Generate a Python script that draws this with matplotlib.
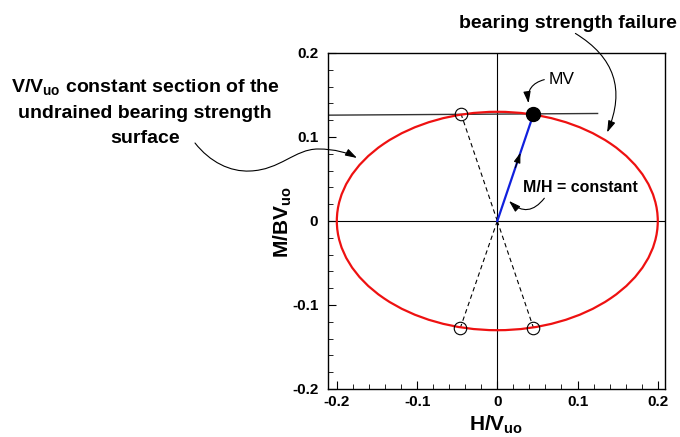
import matplotlib.pyplot as plt
from matplotlib.patches import Ellipse, FancyArrowPatch
from matplotlib.path import Path
from matplotlib.ticker import MultipleLocator

plt.rcParams['font.family'] = ['Liberation Sans', 'DejaVu Sans']
plt.rcParams['mathtext.fontset'] = 'custom'
plt.rcParams['mathtext.rm'] = 'Liberation Sans'
plt.rcParams['mathtext.bf'] = 'Liberation Sans:bold'
plt.rcParams['mathtext.default'] = 'bf'

# Undrained bearing strength surface (V/Vuo constant section)
H_MAX = 0.2
M_MAX = 0.13

# Load path at constant M/H, ending on the surface at MV
path_h = [0.0, 0.045]
path_m = [0.0, 0.127]

# Symmetric points on the same section
sym_h = [-0.045, -0.046, 0.045]
sym_m = [0.127, -0.127, -0.127]

# Horizontal reference line through the failure point
ref_h = [-0.211, 0.125]
ref_m = [0.126, 0.128]

fig = plt.figure(figsize=(6.8, 4.37), dpi=100)
W, H = 680, 437


def px(x, y):
    # pixel position (top-left origin) -> figure fraction
    return (x / W, 1 - y / H)


ax = fig.add_axes([328 / W, 1 - 389 / H, 337 / W, 336 / H])
ax.set_xlim(-0.211, 0.209)
ax.set_ylim(-0.2, 0.2)

ax.axhline(0, color='black', lw=0.8, zorder=1)
ax.axvline(0, color='black', lw=0.8, zorder=1)

ax.add_patch(Ellipse((0, 0), 2 * H_MAX, 2 * M_MAX, fill=False,
                     edgecolor='#ee1111', lw=1.6, zorder=3))

ax.plot(ref_h, ref_m, color='#333333', lw=1.0, zorder=2)

for h, m in zip(sym_h, sym_m):
    ax.plot([0, h], [0, m], color='black', lw=0.8, dashes=(4, 3), zorder=2)
ax.plot(sym_h, sym_m, 'o', ms=9, mfc='none', mec='black', mew=0.8, zorder=4)

ax.plot(path_h, path_m, color='#1020dd', lw=1.6, zorder=4)
ax.annotate('', xy=(path_h[1] * 0.64, path_m[1] * 0.64),
            xytext=(path_h[1] * 0.5, path_m[1] * 0.5),
            arrowprops=dict(arrowstyle='-|>,head_length=0.6,head_width=0.2',
                            color='black', lw=0.8, shrinkA=0, shrinkB=0),
            zorder=5)
ax.plot(path_h[1], path_m[1], 'o', ms=10, color='black', zorder=5)

ax.xaxis.set_major_locator(MultipleLocator(0.1))
ax.xaxis.set_minor_locator(MultipleLocator(0.02))
ax.yaxis.set_major_locator(MultipleLocator(0.1))
ax.yaxis.set_minor_locator(MultipleLocator(0.02))
ax.set_xticks([-0.2, -0.1, 0, 0.1, 0.2])
ax.set_xticklabels(['-0.2', '-0.1', '0', '0.1', '0.2'])
ax.set_yticks([-0.2, -0.1, 0, 0.1, 0.2])
ax.set_yticklabels(['-0.2', '-0.1', '0', '0.1', '0.2'])
ax.tick_params(which='both', direction='in', labelsize=11)
ax.tick_params(axis='y', which='major', length=5.5, pad=7)
ax.tick_params(axis='x', which='major', length=5.5, pad=4)
ax.tick_params(which='minor', length=3.5)
for lab in ax.get_xticklabels() + ax.get_yticklabels():
    lab.set_fontweight('bold')
for sp in ax.spines.values():
    sp.set_linewidth(1.0)

fig.text(*px(496, 425), 'H/V$_{uo}$', ha='center', va='center',
         fontsize=15, fontweight='bold')
fig.text(*px(283, 222), 'M/BV$_{uo}$', ha='center', va='center',
         rotation=90, fontsize=15, fontweight='bold')

fig.text(*px(145, 112), 'V/V$_{uo}$ constant section of the\n'
         'undrained bearing strength\nsurface',
         ha='center', va='center', multialignment='center',
         fontsize=14, fontweight='bold', linespacing=1.65)
fig.text(*px(568, 23), 'bearing strength failure', ha='center', va='center',
         fontsize=14, fontweight='bold')
fig.text(*px(562, 80), 'MV', ha='center', va='center', fontsize=12.5)
fig.text(*px(580, 188), 'M/H = constant', ha='center', va='center',
         fontsize=11.5, fontweight='bold')

head = '-|>,head_length=0.7,head_width=0.22'

# S-shaped leader from the section label to the surface
verts = [px(195, 143), px(210, 162), px(230, 172), px(250, 171),
         px(280, 170), px(295, 149), px(318, 149),
         px(335, 149), px(348, 153), px(357, 158)]
codes = [Path.MOVETO] + [Path.CURVE4] * 9
fig.patches.append(FancyArrowPatch(path=Path(verts, codes), arrowstyle=head,
                                   mutation_scale=10, lw=0.8, color='black',
                                   transform=fig.transFigure, figure=fig))

fig.patches.append(FancyArrowPatch(px(573, 32), px(606, 135),
                                   connectionstyle='arc3,rad=-0.45',
                                   arrowstyle=head, mutation_scale=10, lw=0.8,
                                   color='black', transform=fig.transFigure,
                                   figure=fig))
fig.patches.append(FancyArrowPatch(px(547, 79), px(529, 106),
                                   connectionstyle='arc3,rad=0.5',
                                   arrowstyle=head, mutation_scale=10, lw=0.8,
                                   color='black', transform=fig.transFigure,
                                   figure=fig))
fig.patches.append(FancyArrowPatch(px(546, 196), px(507, 199),
                                   connectionstyle='arc3,rad=-0.6',
                                   arrowstyle=head, mutation_scale=10, lw=0.8,
                                   color='black', transform=fig.transFigure,
                                   figure=fig))

fig.savefig('out.png', dpi=100)
